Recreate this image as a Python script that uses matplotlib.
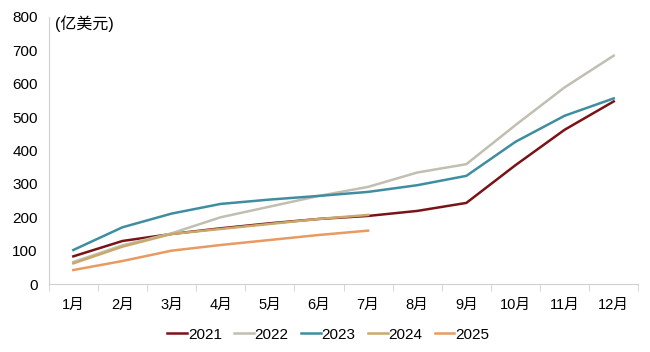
import matplotlib.pyplot as plt
import numpy as np

plt.rcParams['font.family'] = ['Liberation Sans', 'Noto Sans CJK SC', 'DejaVu Sans']

months = ['1月', '2月', '3月', '4月', '5月', '6月', '7月', '8月', '9月', '10月', '11月', '12月']
y2021 = [83, 129, 150, 167, 182, 195, 204, 219, 243, 356, 462, 547]
y2022 = [66, 116, 152, 200, 232, 264, 291, 334, 359, 476, 589, 684]
y2023 = [102, 170, 211, 240, 253, 264, 276, 296, 324, 426, 504, 556]
y2024 = [62, 112, 150, 165, 180, 195, 207]
y2025 = [42, 69, 100, 117, 132, 147, 160]

series = [
    ('2021', y2021, '#7a1317'),
    ('2022', y2022, '#c1bfb1'),
    ('2023', y2023, '#3f8ea0'),
    ('2024', y2024, '#c9a96b'),
    ('2025', y2025, '#e99a62'),
]

fig = plt.figure(figsize=(6.5, 3.52), dpi=100)
ax = fig.add_axes([0.075, 0.193, 0.907, 0.759])

x = np.arange(len(months))
for name, vals, col in series:
    ax.plot(x[:len(vals)], vals, color=col, lw=1.8, label=name)

ax.set_xlim(-0.5, 11.5)
ax.set_ylim(0, 800)
ax.set_yticks(range(0, 801, 100))
ax.set_xticks(x)
ax.set_xticklabels(months)
ax.set_xticks(np.arange(-0.5, 12, 1), minor=True)
ax.tick_params(axis='x', which='major', length=0, pad=10, labelsize=10.5)
ax.tick_params(axis='x', which='minor', length=5, color='#d0d0d0')
ax.tick_params(axis='y', length=0, labelsize=11, pad=8)

for s in ['top', 'right']:
    ax.spines[s].set_visible(False)
ax.spines['left'].set_color('#d0d0d0')
ax.spines['bottom'].set_color('#d0d0d0')

ax.text(0.010, 1.005, '(亿美元)', transform=ax.transAxes, fontsize=11.5, va='top')

fig.legend(loc='lower center', bbox_to_anchor=(0.505, -0.01), ncol=5, frameon=False,
           fontsize=11, handlelength=1.3, handletextpad=0.05, columnspacing=0.8)

fig.savefig('out.png', dpi=100)
